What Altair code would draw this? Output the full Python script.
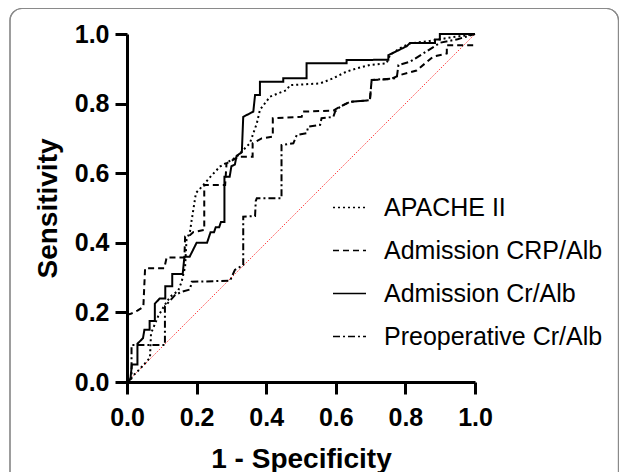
import altair as alt
import pandas as pd

series_names = ["APACHE II", "Admission CRP/Alb", "Admission Cr/Alb", "Preoperative Cr/Alb"]
dash_styles = [[2, 3], [6, 4], [1, 0], [7, 3, 2, 3]]
tick_values = [0.0, 0.2, 0.4, 0.6, 0.8, 1.0]

apache_x = [0, 0.004, 0.03, 0.052, 0.066, 0.069, 0.09, 0.109, 0.124, 0.147, 0.157, 0.167, 0.171, 0.181,
            0.186, 0.195, 0.198, 0.215, 0.24, 0.267, 0.315, 0.353, 0.373, 0.382, 0.411, 0.459, 0.468,
            0.555, 0.593, 0.631, 0.66, 0.698, 0.746, 0.756, 0.784, 0.813, 0.87, 0.93, 1.0]
apache_y = [0, 0.006, 0.03, 0.054, 0.07, 0.14, 0.19, 0.222, 0.245, 0.262, 0.288, 0.331, 0.408, 0.432,
            0.466, 0.523, 0.543, 0.561, 0.59, 0.619, 0.647, 0.686, 0.743, 0.782, 0.82, 0.839, 0.853,
            0.858, 0.873, 0.892, 0.901, 0.911, 0.916, 0.94, 0.959, 0.973, 0.98, 0.99, 1.0]

crp_x = [0, 0.013, 0.03, 0.047, 0.052, 0.107, 0.114, 0.165, 0.167, 0.181, 0.191, 0.222, 0.222, 0.282,
         0.286, 0.32, 0.361, 0.361, 0.387, 0.419, 0.419, 0.502, 0.505, 0.593, 0.612, 0.641, 0.698,
         0.703, 0.756, 0.784, 0.832, 0.88, 0.919, 0.919, 1.0]
crp_y = [0.193, 0.197, 0.205, 0.216, 0.327, 0.327, 0.358, 0.358, 0.418, 0.422, 0.431, 0.437, 0.566, 0.566,
         0.628, 0.647, 0.647, 0.686, 0.700, 0.705, 0.758, 0.762, 0.777, 0.78, 0.791, 0.805, 0.81,
         0.868, 0.87, 0.882, 0.895, 0.935, 0.944, 0.968, 0.968]

cr_x = [0, 0.01, 0.014, 0.03, 0.03, 0.046, 0.05, 0.065, 0.065, 0.08, 0.08, 0.094, 0.11, 0.11, 0.13, 0.13,
        0.16, 0.165, 0.18, 0.19, 0.2, 0.23, 0.24, 0.25, 0.255, 0.265, 0.27, 0.28, 0.28, 0.295, 0.3, 0.31,
        0.315, 0.33, 0.334, 0.363, 0.368, 0.382, 0.382, 0.449, 0.449, 0.516, 0.516, 0.631, 0.631,
        0.751, 0.751, 0.804, 0.813, 0.885, 0.885, 0.899, 0.899, 1.0]
cr_y = [0, 0.01, 0.05, 0.05, 0.11, 0.126, 0.15, 0.15, 0.175, 0.175, 0.225, 0.24, 0.24, 0.275, 0.275, 0.31,
        0.31, 0.36, 0.36, 0.38, 0.4, 0.4, 0.43, 0.43, 0.445, 0.445, 0.46, 0.46, 0.59, 0.59, 0.62, 0.625,
        0.65, 0.66, 0.762, 0.777, 0.825, 0.825, 0.863, 0.863, 0.873, 0.873, 0.916, 0.916, 0.925,
        0.926, 0.939, 0.965, 0.974, 0.974, 0.984, 0.984, 1.0, 1.0]

preop_x = [0, 0.013, 0.013, 0.109, 0.109, 0.125, 0.138, 0.157, 0.181, 0.186, 0.296, 0.31, 0.334, 0.334,
           0.368, 0.37, 0.373, 0.444, 0.444, 0.478, 0.488, 0.516, 0.521, 0.555, 0.559, 0.593, 0.598,
           0.612, 0.641, 0.698, 0.703, 0.775, 0.78, 0.813, 0.851, 0.9, 0.95, 1.0]
preop_y = [0, 0.01, 0.106, 0.106, 0.218, 0.235, 0.25, 0.259, 0.266, 0.288, 0.291, 0.322, 0.336, 0.475,
           0.477, 0.52, 0.528, 0.528, 0.681, 0.686, 0.71, 0.715, 0.734, 0.739, 0.758, 0.762, 0.777,
           0.791, 0.805, 0.81, 0.868, 0.873, 0.911, 0.92, 0.944, 0.975, 0.985, 1.0]

diag_x = [0.0, 1.0]
diag_y = [0.0, 1.0]

rows = []
for name, xs, ys in [(series_names[0], apache_x, apache_y),
                     (series_names[1], crp_x, crp_y),
                     (series_names[2], cr_x, cr_y),
                     (series_names[3], preop_x, preop_y)]:
    assert len(xs) == len(ys), name
    for i, (a, b) in enumerate(zip(xs, ys)):
        rows.append({"fpr": a, "tpr": b, "curve": name, "idx": i})
df = pd.DataFrame(rows)
diag = pd.DataFrame({"fpr": diag_x, "tpr": diag_y})

FONT = "Liberation Sans"
xscale = alt.Scale(domain=[0, 1], nice=False, zero=False)
yscale = alt.Scale(domain=[0, 1], nice=False, zero=False)
xaxis = alt.Axis(values=tick_values, format=".1f", title="1 - Specificity")
yaxis = alt.Axis(values=tick_values, format=".1f", title="Sensitivity")

frame = alt.Chart(diag).mark_rect(
    fillOpacity=0, stroke="#8a8a8a", strokeWidth=1.2, cornerRadius=12
).encode(
    x=alt.value(-117), x2=alt.value(491.5), y=alt.value(-25.5), y2=alt.value(480)
)

diagonal = alt.Chart(diag).mark_line(color="#ff4040", strokeWidth=1, strokeDash=[1.5, 1.5]).encode(
    x=alt.X("fpr:Q", scale=xscale, axis=xaxis),
    y=alt.Y("tpr:Q", scale=yscale, axis=yaxis),
)

curves = alt.Chart(df).mark_line(color="black", strokeWidth=2, clip=False).encode(
    x=alt.X("fpr:Q", scale=xscale, axis=xaxis),
    y=alt.Y("tpr:Q", scale=yscale, axis=yaxis),
    strokeDash=alt.StrokeDash(
        "curve:N",
        scale=alt.Scale(domain=series_names, range=dash_styles),
        legend=alt.Legend(
            title=None, orient="none", legendX=205, legendY=156,
            symbolType="stroke", symbolSize=1089, symbolStrokeWidth=1.4,
            symbolStrokeColor="black", labelFontSize=25, labelFont=FONT,
            labelColor="black", labelOffset=17, rowPadding=12, padding=0,
            labelLimit=400,
        ),
    ),
    order="idx:Q",
)

chart = alt.layer(frame, diagonal, curves).properties(
    width=348, height=348,
    autosize=alt.AutoSizeParams(type="none"),
    padding={"left": 119, "top": 26, "right": 144, "bottom": 90},
).configure_view(strokeWidth=0).configure_axis(
    domainColor="black", domainWidth=3, tickColor="black", tickWidth=3, tickSize=12,
    labelFont=FONT, labelFontWeight="bold", labelFontSize=25, labelColor="black",
    titleFont=FONT, titleFontWeight="bold", titleFontSize=28, titleColor="black",
    grid=False, labelFlush=False,
).configure_axisX(titlePadding=15, labelPadding=11).configure_axisY(titlePadding=12, labelPadding=6)

chart.save("out.html", embed_options={"renderer": "svg", "actions": False})
